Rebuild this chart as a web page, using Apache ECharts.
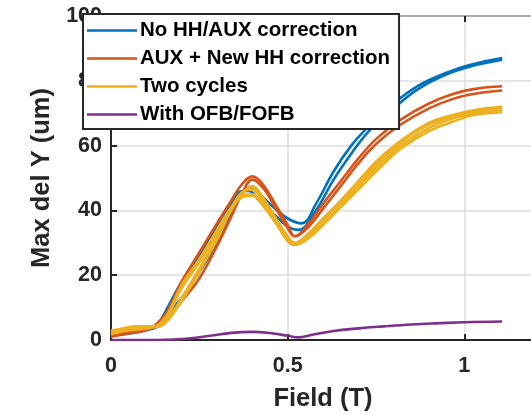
<!DOCTYPE html>
<html><head><meta charset="utf-8">
<script src="https://cdn.jsdelivr.net/npm/echarts@6/dist/echarts.min.js"></script>
<style>html,body{margin:0;padding:0;background:#fff}#c{width:531px;height:415px}</style>
</head><body><div id="c"></div>
<script>
// Series data: [field (T), max del Y (um)]
const blueA = [[0,2],[0.05,2.5],[0.1,3.2],[0.13,4],[0.16,8],[0.2,13],[0.25,21],[0.3,30],[0.34,39],[0.37,45],[0.39,47],[0.42,45],[0.46,41],[0.5,37.5],[0.54,36],[0.58,42],[0.63,52],[0.68,60],[0.73,66],[0.8,73],[0.87,78.5],[0.95,82.5],[1.02,85],[1.107,87]];
const blueB = [[0,1.5],[0.05,2],[0.1,3],[0.13,4.5],[0.16,10],[0.2,18],[0.25,26],[0.3,35],[0.34,42],[0.37,46],[0.39,46],[0.42,43],[0.46,39],[0.5,35],[0.53,34],[0.58,40],[0.63,49.5],[0.68,57.5],[0.73,64.5],[0.8,71.5],[0.87,77.5],[0.95,82],[1.02,84.5],[1.107,86.5]];
const orangeA = [[0,1],[0.05,2],[0.1,3],[0.13,5],[0.16,9],[0.2,18],[0.25,27],[0.3,36],[0.34,43],[0.37,48],[0.4,50.5],[0.43,48],[0.47,41],[0.5,35.5],[0.52,32],[0.56,36],[0.6,42],[0.65,49],[0.7,56],[0.75,62],[0.82,68],[0.9,73],[0.97,76],[1.03,77.5],[1.107,78.3]];
const orangeB = [[0,1.2],[0.05,2.3],[0.1,3.3],[0.13,4.5],[0.16,7],[0.2,12],[0.25,19],[0.3,29],[0.34,38],[0.37,45],[0.4,49.5],[0.43,47],[0.47,40],[0.5,34.5],[0.52,32],[0.56,35],[0.6,40.5],[0.65,47.5],[0.7,54.5],[0.75,60.5],[0.82,66.5],[0.9,71.5],[0.97,74.5],[1.03,76],[1.107,77]];
const yellowA = [[0,3],[0.04,3.5],[0.08,4],[0.13,4],[0.16,6],[0.2,12],[0.25,21],[0.3,31],[0.34,40],[0.37,45],[0.4,47.5],[0.43,44],[0.47,37],[0.5,32],[0.52,30],[0.56,33],[0.6,37.5],[0.65,43],[0.7,49],[0.75,55],[0.82,61.5],[0.9,67],[0.97,69.5],[1.03,71],[1.107,72]];
const yellowB = [[0,2],[0.04,3],[0.08,3.5],[0.13,4.5],[0.16,8],[0.2,17],[0.25,25],[0.3,34],[0.34,41],[0.37,44.5],[0.4,45],[0.43,42],[0.47,36],[0.5,31],[0.52,29.5],[0.56,32],[0.6,36],[0.65,41.5],[0.7,47.5],[0.75,53],[0.82,60],[0.9,65.5],[0.97,68.5],[1.03,70],[1.107,71]];
const yellowC = [[0,2.5],[0.04,3.8],[0.08,4.2],[0.13,4.2],[0.16,6.5],[0.2,13],[0.25,22],[0.3,32],[0.34,40.5],[0.37,45.5],[0.4,46.5],[0.43,43],[0.47,36.5],[0.5,31.5],[0.52,29.8],[0.56,32.5],[0.6,37],[0.65,42.5],[0.7,48.5],[0.75,54],[0.82,61],[0.9,66.5],[0.97,69],[1.03,70.5],[1.107,71.5]];
const yellowD = [[0,1.8],[0.04,2.8],[0.08,3.3],[0.13,4.3],[0.16,7.5],[0.2,16],[0.25,24],[0.3,33],[0.34,40.5],[0.37,44],[0.4,44.5],[0.43,41.5],[0.47,35.5],[0.5,30.5],[0.52,29.3],[0.56,31.5],[0.6,35.5],[0.65,41],[0.7,46.5],[0.75,52],[0.82,59],[0.9,64.5],[0.97,67.5],[1.03,69.5],[1.107,70.3]];
const purple = [[0,0],[0.1,0],[0.2,0.3],[0.28,1.3],[0.34,2.2],[0.4,2.5],[0.46,2],[0.5,1.3],[0.53,0.8],[0.57,1.6],[0.63,2.8],[0.7,3.6],[0.77,4.2],[0.85,4.8],[0.93,5.2],[1.0,5.5],[1.107,5.7]];

const names = ['No HH/AUX correction','AUX + New HH correction','Two cycles','With OFB/FOFB'];
const colors = ['#0072BD','#D95319','#EDB120','#7E2F8E'];
const groups = [[blueA,blueB],[orangeA,orangeB],[yellowA,yellowB,yellowC,yellowD],[purple]];
const xTicks = [0,0.5,1];
const yTicks = [0,20,40,60,80,100];

const series = [];
groups.forEach((g,i)=>g.forEach(d=>series.push({
  name:names[i], type:'line', data:d, smooth:0.4, symbol:'none', showSymbol:false,
  color:colors[i], lineStyle:{color:colors[i], width:2.6}, z:2+i
})));

const txt = '#262626';
const font = '"Liberation Sans", Arial, sans-serif';
const chart = echarts.init(document.getElementById('c'), null, {renderer:'canvas'});
chart.setOption({
  animation:false,
  grid:{left:111, top:16, width:424, height:324, show:true, borderColor:txt, borderWidth:2,
        backgroundColor:'transparent', outerBoundsMode:'none', containLabel:false},
  legend:{
    data:names, orient:'vertical', left:83, top:14,
    backgroundColor:'#fff', borderColor:txt, borderWidth:2, borderRadius:0,
    padding:[6,9,4,4], itemWidth:50, itemHeight:14, itemGap:7,
    icon:'path://M0,6 L50,6 L50,8.6 L0,8.6 Z',
    textStyle:{fontFamily:font, fontWeight:'bold', fontSize:20.5, lineHeight:20, color:'#000', padding:[0,0,0,-2]}
  },
  xAxis:[{
    type:'value', min:0, max:1.2, interval:0.5,
    name:'Field (T)', nameLocation:'middle', nameGap:46,
    nameTextStyle:{fontFamily:font, fontWeight:'bold', fontSize:25.5, color:txt},
    axisLine:{lineStyle:{color:txt, width:2}},
    axisTick:{inside:true, length:6, lineStyle:{color:txt, width:2}},
    axisLabel:{fontFamily:font, fontWeight:'bold', fontSize:21.5, color:txt, margin:15,
      formatter:v=>xTicks.includes(+v.toFixed(3))?String(+v.toFixed(3)):''},
    splitLine:{show:true, lineStyle:{color:'#dcdcdc', width:1.5}}
  },{
    type:'value', position:'top', min:0, max:1.2, interval:0.5,
    axisLine:{show:false}, axisLabel:{show:false}, splitLine:{show:false},
    axisTick:{inside:true, length:6, lineStyle:{color:txt, width:2}}
  }],
  yAxis:{
    type:'value', min:0, max:100, interval:20,
    name:'Max del Y (um)', nameLocation:'middle', nameGap:53, nameRotate:90,
    nameTextStyle:{fontFamily:font, fontWeight:'bold', fontSize:25.5, color:txt},
    axisLine:{lineStyle:{color:txt, width:2}},
    axisTick:{inside:true, length:6, lineStyle:{color:txt, width:2}},
    axisLabel:{fontFamily:font, fontWeight:'bold', fontSize:21.5, color:txt, margin:9,
      formatter:v=>yTicks.includes(v)?String(v):''},
    splitLine:{show:true, lineStyle:{color:'#dcdcdc', width:1.5}}
  },
  series:series
});
</script></body></html>
